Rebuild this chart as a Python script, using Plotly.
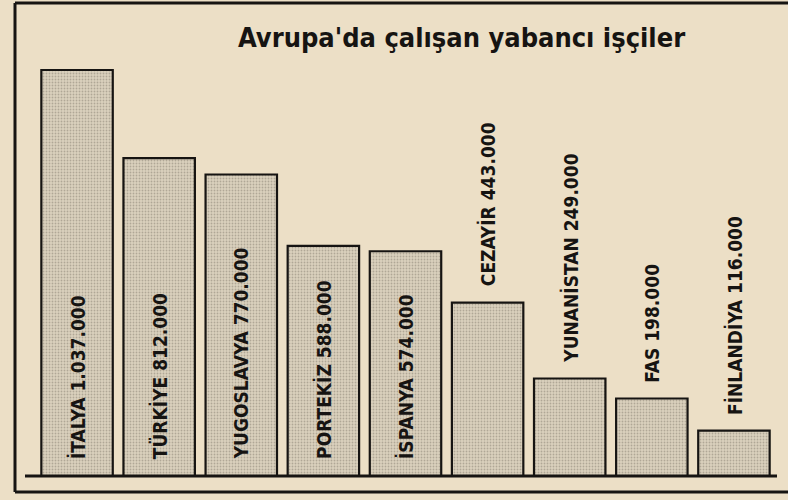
import plotly.graph_objects as go

countries = ["İTALYA", "TÜRKİYE", "YUGOSLAVYA", "PORTEKİZ", "İSPANYA",
             "CEZAYİR", "YUNANİSTAN", "FAS", "FİNLANDİYA"]
workers = [1037000, 812000, 770000, 588000, 574000, 443000, 249000, 198000, 116000]
title_text = "Avrupa'da çalışan yabancı işçiler"

FONT = "DejaVu Sans Condensed, Liberation Sans Narrow, sans-serif"
BG = "#ecdfc6"
INK = "#161412"

W, H = 788, 500
ML, MR, MT, MB = 36, 13, 60, 24
plot_w = W - ML - MR
plot_h = H - MT - MB

def px(x):
    return (x - ML) / plot_w

def py(y):
    return (H - MB - y) / plot_h

def fmt(v):
    return f"{v:,}".replace(",", ".")

fig = go.Figure()
fig.add_trace(go.Bar(
    x=countries, y=workers,
    marker=dict(
        color="#d6ccb8",
        line=dict(color=INK, width=2.2),
        pattern=dict(shape=".", fgcolor="#857d70", bgcolor="#dbd1bd",
                     size=3, solidity=0.3),
    ),
    hoverinfo="skip",
))

for c, v in zip(countries, workers):
    inside = v > 500000
    fig.add_annotation(
        x=c, y=0 if inside else v, xref="x", yref="y",
        text=f"<b>{c} {fmt(v)}</b>", textangle=-90, showarrow=False,
        yanchor="bottom", xanchor="center", yshift=15 if inside else 14,
        font=dict(family=FONT, size=19, color=INK),
    )

fig.add_annotation(
    x=px(461), y=py(37), xref="paper", yref="paper", text=f"<b>{title_text}</b>",
    showarrow=False, xanchor="center", yanchor="middle",
    font=dict(family=FONT, size=27, color=INK),
)

fig.update_layout(
    width=W, height=H,
    margin=dict(l=ML, r=MR, t=MT, b=MB),
    paper_bgcolor=BG, plot_bgcolor=BG,
    bargap=0.13, showlegend=False,
    xaxis=dict(showticklabels=False, showgrid=False, zeroline=False,
               ticks="", range=[-0.5, 8.5]),
    yaxis=dict(showticklabels=False, showgrid=False, zeroline=False,
               ticks="", range=[0, 1062500]),
)

# frame and baseline
line = dict(color=INK, width=3)
fig.add_shape(type="line", xref="paper", yref="paper",
              x0=px(25), x1=px(777), y0=py(476), y1=py(476), line=line)
fig.add_shape(type="line", xref="paper", yref="paper",
              x0=px(15), x1=px(792), y0=py(3), y1=py(3), line=line)
fig.add_shape(type="line", xref="paper", yref="paper",
              x0=px(15), x1=px(15), y0=py(3), y1=py(492), line=line)
fig.add_shape(type="line", xref="paper", yref="paper",
              x0=px(15), x1=px(792), y0=py(492), y1=py(492), line=line)

fig.write_html("out.html", config={"displayModeBar": False},
               post_script="document.body.style.margin='0';")
